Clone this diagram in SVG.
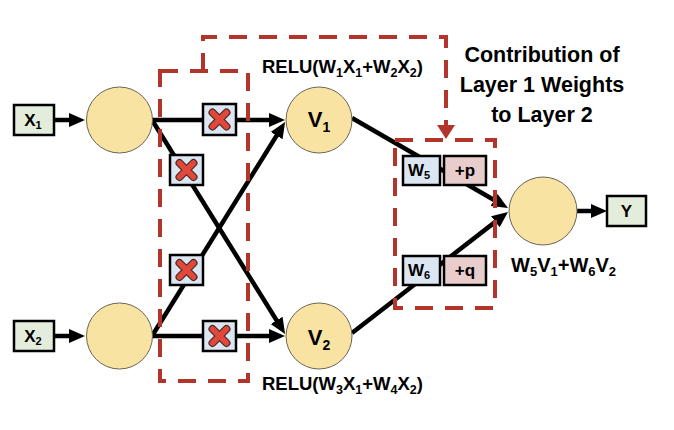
<svg xmlns="http://www.w3.org/2000/svg" width="674" height="430" viewBox="0 0 674 430">
<defs>
<style>
.line{stroke:#000;stroke-width:4.5;fill:none}
.arr{marker-end:url(#ah)}
.circ{fill:#f9e3a3;stroke:#6b6455;stroke-width:1}
.inbox{fill:#e4ecdb;stroke:#000;stroke-width:2.5}
.wbox{fill:#dce6f2;stroke:#000;stroke-width:2.5}
.pbox{fill:#e9cccc;stroke:#000;stroke-width:2.5}
.dash{fill:none;stroke:#b3342b;stroke-width:4;stroke-dasharray:18 12}
text{font-family:"Liberation Sans",Arial,sans-serif;font-weight:bold;fill:#000}
.lbl{font-size:17px;text-anchor:middle}
.big{font-size:22px;text-anchor:middle}
.title{font-size:21.5px;text-anchor:middle}
.eq{font-size:18.5px}
</style>
<marker id="ah" markerUnits="userSpaceOnUse" markerWidth="16" markerHeight="16" refX="6" refY="8" orient="auto">
<path d="M0,1 L16,8 L0,15 z" fill="#000"/>
</marker>
<g id="xmark">
<path d="M-7,-7 L7,7 M-7,7 L7,-7" stroke="#4a2a26" stroke-width="8" stroke-linecap="round"/>
<path d="M-7,-7 L7,7 M-7,7 L7,-7" stroke="#e2483a" stroke-width="5.5" stroke-linecap="round"/>
</g>
</defs>
<rect width="674" height="430" fill="#fff"/>

<g id="connectors">
<line class="line arr" x1="54" y1="120" x2="75" y2="120"/>
<line class="line arr" x1="54" y1="336" x2="75" y2="336"/>
<line class="line arr" x1="152" y1="120" x2="275" y2="120"/>
<line class="line arr" x1="152" y1="336" x2="275" y2="336"/>
<line class="line arr" x1="152" y1="120" x2="279.8" y2="325.5"/>
<line class="line arr" x1="152" y1="336" x2="279.8" y2="130.5"/>
<line class="line arr" x1="352" y1="118" x2="499.3" y2="203"/>
<line class="line arr" x1="352" y1="333" x2="500.1" y2="218.1"/>
<line class="line arr" x1="577" y1="211" x2="597" y2="211"/>
<path id="contrib-link" class="dash" d="M203,71 L203,37 L446,37 L446,126"/>
<polygon points="437,125 455,125 446,139" fill="#b3342b"/>
</g>

<g id="layer1-box"><rect class="dash" x="160" y="71" width="88" height="310"/></g>
<g id="layer2-box"><rect class="dash" x="395" y="140" width="100" height="168"/></g>

<g id="input-x1">
<rect class="inbox" x="14" y="105" width="40" height="30"/>
<text class="lbl" x="33" y="126">X<tspan font-size="11" dy="3">1</tspan></text>
</g>
<g id="input-x2">
<rect class="inbox" x="14" y="321" width="40" height="30"/>
<text class="lbl" x="33" y="342">X<tspan font-size="11" dy="3">2</tspan></text>
</g>
<g id="hidden-in1"><circle class="circ" cx="119.5" cy="120" r="33"/></g>
<g id="hidden-in2"><circle class="circ" cx="119.5" cy="336" r="33"/></g>

<g id="w1-cross"><rect class="wbox" x="203" y="104" width="33" height="31"/><use href="#xmark" x="219.5" y="119.5"/></g>
<g id="w3-cross"><rect class="wbox" x="170" y="155" width="33" height="30"/><use href="#xmark" x="186.5" y="170"/></g>
<g id="w2-cross"><rect class="wbox" x="170" y="255" width="33" height="30"/><use href="#xmark" x="186.5" y="270"/></g>
<g id="w4-cross"><rect class="wbox" x="203" y="321" width="33" height="30"/><use href="#xmark" x="219.5" y="336"/></g>

<g id="v1">
<circle class="circ" cx="319" cy="120" r="33"/>
<text class="big" x="319" y="127">V<tspan font-size="14" dy="5">1</tspan></text>
</g>
<g id="v2">
<circle class="circ" cx="319" cy="336" r="33"/>
<text class="big" x="319" y="345">V<tspan font-size="14" dy="5">2</tspan></text>
</g>

<g id="relu1-label">
<text class="eq" x="262" y="73">RELU(W<tspan font-size="12.5" dy="4">1</tspan><tspan dy="-4">X</tspan><tspan font-size="12.5" dy="4">1</tspan><tspan dy="-4">+W</tspan><tspan font-size="12.5" dy="4">2</tspan><tspan dy="-4">X</tspan><tspan font-size="12.5" dy="4">2</tspan><tspan dy="-4">)</tspan></text>
</g>
<g id="relu2-label">
<text class="eq" x="262" y="390">RELU(W<tspan font-size="12.5" dy="4">3</tspan><tspan dy="-4">X</tspan><tspan font-size="12.5" dy="4">1</tspan><tspan dy="-4">+W</tspan><tspan font-size="12.5" dy="4">4</tspan><tspan dy="-4">X</tspan><tspan font-size="12.5" dy="4">2</tspan><tspan dy="-4">)</tspan></text>
</g>

<g id="title">
<text class="title" x="542" y="62">Contribution of</text>
<text class="title" x="542" y="92">Layer 1 Weights</text>
<text class="title" x="542" y="122">to Layer 2</text>
</g>

<g id="w5">
<rect class="wbox" x="403" y="156" width="37" height="29"/>
<text class="lbl" x="419" y="176">W<tspan font-size="11" dy="3">5</tspan></text>
</g>
<g id="p-bias">
<rect class="pbox" x="444" y="156" width="42" height="29"/>
<text class="lbl" x="465" y="176">+p</text>
</g>
<g id="w6">
<rect class="wbox" x="403" y="256" width="37" height="29"/>
<text class="lbl" x="419" y="276">W<tspan font-size="11" dy="3">6</tspan></text>
</g>
<g id="q-bias">
<rect class="pbox" x="444" y="256" width="42" height="29"/>
<text class="lbl" x="465" y="276">+q</text>
</g>

<g id="output">
<circle class="circ" cx="543" cy="211" r="34"/>
</g>
<g id="output-label">
<text style="font-size:20px" x="511" y="272">W<tspan font-size="13" dy="4">5</tspan><tspan dy="-4">V</tspan><tspan font-size="13" dy="4">1</tspan><tspan dy="-4">+W</tspan><tspan font-size="13" dy="4">6</tspan><tspan dy="-4">V</tspan><tspan font-size="13" dy="4">2</tspan></text>
</g>
<g id="y-out">
<rect class="inbox" x="607" y="196" width="39" height="30"/>
<text class="lbl" x="626.5" y="217">Y</text>
</g>
</svg>
